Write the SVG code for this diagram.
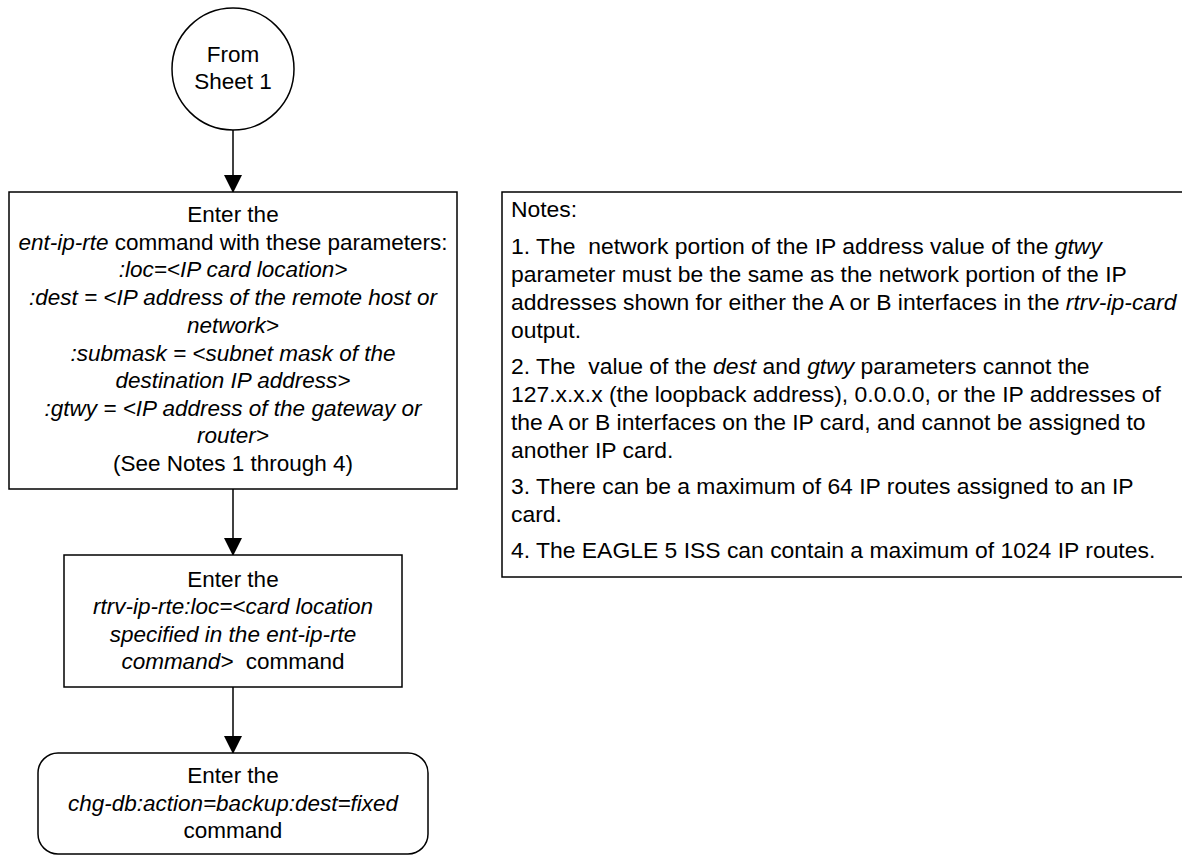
<svg xmlns="http://www.w3.org/2000/svg" width="1182" height="856" viewBox="0 0 1182 856">
<style>
  text { font-family: "Liberation Sans", Arial, Helvetica, sans-serif; font-size: 22.5px; fill: #000; }
  .n { font-size: 22.9px; }
  .c { text-anchor: middle; }
  .i { font-style: italic; }
  .shape { fill: #fff; stroke: #000; stroke-width: 1.5; }
  .conn { stroke: #000; stroke-width: 1.5; fill: none; marker-end: url(#arrow); }
</style>
<defs>
  <marker id="arrow" markerWidth="18" markerHeight="20" refX="17" refY="9" orient="auto" markerUnits="userSpaceOnUse">
    <path d="M0,0 L18,9 L0,18 Z" fill="#000"/>
  </marker>
</defs>
<rect width="1182" height="856" fill="#fff"/>
<g id="connectors">
  <line class="conn" x1="233" y1="130" x2="233" y2="192"/>
  <line class="conn" x1="233" y1="489" x2="233" y2="555"/>
  <line class="conn" x1="233" y1="687" x2="233" y2="753"/>
</g>
<g id="start">
  <circle class="shape" cx="233" cy="69" r="61"/>
  <text class="c" x="233" y="62">From</text>
  <text class="c" x="233" y="89">Sheet 1</text>
</g>
<g id="ent-ip-rte">
  <rect class="shape" x="9" y="192" width="448" height="297"/>
  <text class="c" x="233" y="222">Enter the</text>
  <text class="c" x="233" y="250"><tspan class="i">ent-ip-rte</tspan> command with these parameters:</text>
  <text class="c i" x="233" y="277">:loc=&lt;IP card location&gt;</text>
  <text class="c i" x="233" y="305">:dest = &lt;IP address of the remote host or</text>
  <text class="c i" x="233" y="333">network&gt;</text>
  <text class="c i" x="233" y="361">:submask = &lt;subnet mask of the</text>
  <text class="c i" x="233" y="388">destination IP address&gt;</text>
  <text class="c i" x="233" y="416">:gtwy = &lt;IP address of the gateway or</text>
  <text class="c i" x="233" y="443">router&gt;</text>
  <text class="c" x="233" y="471">(See Notes 1 through 4)</text>
</g>
<g id="rtrv-ip-rte">
  <rect class="shape" x="64" y="555" width="338" height="132"/>
  <text class="c" x="233" y="587">Enter the</text>
  <text class="c i" x="233" y="614">rtrv-ip-rte:loc=&lt;card location</text>
  <text class="c i" x="233" y="642">specified in the ent-ip-rte</text>
  <text class="c" x="233" y="669" xml:space="preserve"><tspan class="i">command&gt;</tspan>  command</text>
</g>
<g id="chg-db">
  <rect class="shape" x="38" y="753" width="390" height="101" rx="20" ry="20"/>
  <text class="c" x="233" y="783">Enter the</text>
  <text class="c i" x="233" y="811">chg-db:action=backup:dest=fixed</text>
  <text class="c" x="233" y="838">command</text>
</g>
<g id="notes">
  <rect class="shape" x="502" y="192" width="682" height="385"/>
  <text class="n" x="511" y="217">Notes:</text>
  <text class="n" x="511" y="254" xml:space="preserve">1. The  network portion of the IP address value of the <tspan class="i">gtwy</tspan></text>
  <text class="n" x="511" y="282">parameter must be the same as the network portion of the IP</text>
  <text class="n" x="511" y="310">addresses shown for either the A or B interfaces in the <tspan class="i">rtrv-ip-card</tspan></text>
  <text class="n" x="511" y="338">output.</text>
  <text class="n" x="511" y="374" xml:space="preserve">2. The  value of the <tspan class="i">dest</tspan> and <tspan class="i">gtwy</tspan> parameters cannot the</text>
  <text class="n" x="511" y="402">127.x.x.x (the loopback address), 0.0.0.0, or the IP addresses of</text>
  <text class="n" x="511" y="430">the A or B interfaces on the IP card, and cannot be assigned to</text>
  <text class="n" x="511" y="458">another IP card.</text>
  <text class="n" x="511" y="494">3. There can be a maximum of 64 IP routes assigned to an IP</text>
  <text class="n" x="511" y="522">card.</text>
  <text class="n" x="511" y="558">4. The EAGLE 5 ISS can contain a maximum of 1024 IP routes.</text>
</g>
</svg>
